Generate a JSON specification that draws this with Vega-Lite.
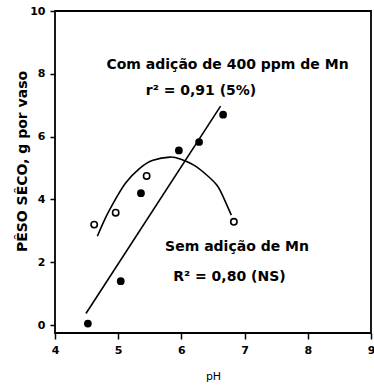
{
  "$schema": "https://vega.github.io/schema/vega-lite/v6.json",
  "width": 316,
  "height": 322,
  "autosize": "none",
  "padding": {"left": 55, "top": 11, "right": 3, "bottom": 56},
  "background": "white",
  "config": {
    "view": {"stroke": "black", "strokeWidth": 1.8},
    "font": "DejaVu Sans"
  },
  "datasets": {
    "com": [
      {"ph": 4.52, "peso": 0.05},
      {"ph": 5.04, "peso": 1.4},
      {"ph": 5.36, "peso": 4.2},
      {"ph": 5.96, "peso": 5.56},
      {"ph": 6.28, "peso": 5.83},
      {"ph": 6.66, "peso": 6.7}
    ],
    "sem": [
      {"ph": 4.62, "peso": 3.2},
      {"ph": 4.96, "peso": 3.58},
      {"ph": 5.45, "peso": 4.75},
      {"ph": 6.83, "peso": 3.29}
    ],
    "reta": [
      {"ph": 4.49, "peso": 0.37},
      {"ph": 6.62, "peso": 6.97}
    ],
    "curva": [
      {"ph": 4.67, "peso": 2.83},
      {"ph": 4.82, "peso": 3.5},
      {"ph": 4.98, "peso": 4.09},
      {"ph": 5.13, "peso": 4.56},
      {"ph": 5.34, "peso": 4.99},
      {"ph": 5.55, "peso": 5.25},
      {"ph": 5.82, "peso": 5.35},
      {"ph": 5.98, "peso": 5.29},
      {"ph": 6.19, "peso": 5.1},
      {"ph": 6.4, "peso": 4.78},
      {"ph": 6.56, "peso": 4.46},
      {"ph": 6.66, "peso": 4.09},
      {"ph": 6.79, "peso": 3.5}
    ],
    "rotulos": [
      {"ph": 6.73, "peso": 8.28, "texto": "Com adição de 400 ppm de Mn"},
      {"ph": 6.31, "peso": 7.45, "texto": "r² = 0,91  (5%)"},
      {"ph": 6.88, "peso": 2.48, "texto": "Sem adição de Mn"},
      {"ph": 6.76, "peso": 1.53, "texto": "R² = 0,80 (NS)"}
    ]
  },
  "layer": [
    {
      "data": {"name": "reta"},
      "mark": {"type": "line", "color": "black", "strokeWidth": 1.6},
      "encoding": {
        "x": {"field": "ph", "type": "quantitative", "scale": {"domain": [4, 9], "nice": false, "zero": false},
          "axis": {"title": "pH", "format": "d", "values": [4, 5, 6, 7, 8, 9], "grid": false, "domain": false, "tickColor": "black", "tickSize": 6, "tickWidth": 1.5, "labelColor": "black", "labelFontSize": 11, "labelFontWeight": "bold", "labelPadding": 5, "labelFlush": false, "titleColor": "black", "titleFontSize": 11, "titleFontWeight": "normal", "titlePadding": 15}},
        "y": {"field": "peso", "type": "quantitative", "scale": {"domain": [-0.25, 10], "nice": false, "zero": false},
          "axis": {"title": "PÊSO SÊCO, g por vaso", "format": "d", "values": [0, 2, 4, 6, 8, 10], "grid": false, "domain": false, "tickColor": "black", "tickSize": 5, "tickWidth": 1.5, "labelColor": "black", "labelFontSize": 11, "labelFontWeight": "bold", "labelPadding": 5, "labelFlush": false, "titleColor": "black", "titleFontSize": 14, "titleFontWeight": "bold", "titleX": -26, "titleY": 150}}
      }
    },
    {
      "data": {"name": "curva"},
      "mark": {"type": "line", "color": "black", "strokeWidth": 1.6, "interpolate": "natural"},
      "encoding": {
        "x": {"field": "ph", "type": "quantitative"},
        "y": {"field": "peso", "type": "quantitative"}
      }
    },
    {
      "data": {"name": "com"},
      "mark": {"type": "point", "filled": true, "color": "black", "opacity": 1, "size": 60},
      "encoding": {
        "x": {"field": "ph", "type": "quantitative"},
        "y": {"field": "peso", "type": "quantitative"}
      }
    },
    {
      "data": {"name": "sem"},
      "mark": {"type": "point", "filled": true, "fill": "white", "stroke": "black", "strokeWidth": 1.6, "opacity": 1, "size": 40},
      "encoding": {
        "x": {"field": "ph", "type": "quantitative"},
        "y": {"field": "peso", "type": "quantitative"}
      }
    },
    {
      "data": {"name": "rotulos"},
      "mark": {"type": "text", "color": "black", "fontSize": 14, "fontWeight": "bold", "align": "center", "baseline": "middle"},
      "encoding": {
        "x": {"field": "ph", "type": "quantitative"},
        "y": {"field": "peso", "type": "quantitative"},
        "text": {"field": "texto"}
      }
    }
  ]
}
